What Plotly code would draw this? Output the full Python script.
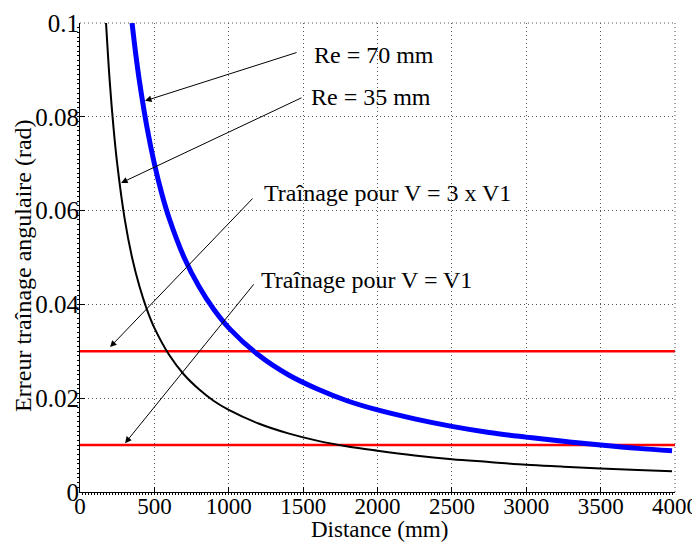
import plotly.graph_objects as go

# Data
x_re35 = [175, 200, 225, 250, 300, 350, 400, 450, 500, 600, 700, 800, 900, 1000,
          1200, 1400, 1600, 1800, 2000, 2250, 2500, 2750, 3000, 3250, 3500, 3750, 3980]
y_re35 = [0.1, 0.0875, 0.0778, 0.07, 0.0583, 0.05, 0.0438, 0.0389, 0.035, 0.0292,
          0.025, 0.0219, 0.0194, 0.0175, 0.0146, 0.0125, 0.0109, 0.0097, 0.0088,
          0.0078, 0.007, 0.0064, 0.0058, 0.0054, 0.005, 0.0047, 0.0044]

x_re70 = [350, 375, 400, 450, 500, 550, 600, 700, 800, 900, 1000, 1200, 1400, 1600,
          1800, 2000, 2250, 2500, 2750, 3000, 3250, 3500, 3750, 3980]
y_re70 = [0.1, 0.0933, 0.0875, 0.0778, 0.07, 0.0636, 0.0583, 0.05, 0.0438, 0.0389,
          0.035, 0.0292, 0.025, 0.0219, 0.0194, 0.0175, 0.0156, 0.014, 0.0127,
          0.0117, 0.0108, 0.01, 0.0093, 0.0088]

x_limits = [0, 4000]
y_v1 = [0.01, 0.01]
y_3v1 = [0.03, 0.03]

x_ticks = [0, 500, 1000, 1500, 2000, 2500, 3000, 3500, 4000]
y_ticks = [0, 0.02, 0.04, 0.06, 0.08, 0.1]
y_tick_labels = ["0", "0.02", "0.04", "0.06", "0.08", "0.1"]

labels = ["Re = 70 mm", "Re = 35 mm", "Traînage pour V = 3 x V1", "Traînage pour V = V1"]
x_title = "Distance (mm)"
y_title = "Erreur traînage angulaire (rad)"

FONT = "Liberation Serif"
GRID_DASH = "1px,3px"
GRID_COLOR = "#555555"

fig = go.Figure()
fig.add_trace(go.Scatter(x=x_limits, y=y_3v1, mode="lines",
                         line=dict(color="#ff0000", width=2.5), hoverinfo="skip"))
fig.add_trace(go.Scatter(x=x_limits, y=y_v1, mode="lines",
                         line=dict(color="#ff0000", width=2.5), hoverinfo="skip"))
fig.add_trace(go.Scatter(x=x_re35, y=y_re35, mode="lines",
                         line=dict(color="black", width=2, shape="spline")))
fig.add_trace(go.Scatter(x=x_re70, y=y_re70, mode="lines",
                         line=dict(color="#0000ff", width=5, shape="spline")))

# arrows: (head x, head y, tail x, tail y)
arrows = [
    (437, 0.0834, 1466, 0.0938),
    (276, 0.0659, 1499, 0.0842),
    (202, 0.0309, 1170, 0.0629),
    (303, 0.0104, 1176, 0.0446),
]
text_pos = [(1560, 0.0932), (1539, 0.0842), (1224, 0.0638), (1203, 0.0452)]

annotations = []
for (hx, hy, tx, ty) in arrows:
    annotations.append(dict(x=hx, y=hy, ax=tx, ay=ty, xref="x", yref="y",
                            axref="x", ayref="y", text="", showarrow=True,
                            arrowhead=2, arrowsize=1.3, arrowwidth=1,
                            arrowcolor="black", standoff=0, startstandoff=0))
for (lbl, (px, py)) in zip(labels, text_pos):
    annotations.append(dict(x=px, y=py, xref="x", yref="y", text=lbl,
                            showarrow=False, xanchor="left", yanchor="middle",
                            font=dict(family=FONT, size=24, color="black")))

# axis titles
annotations.append(dict(x=0.503, y=-0.079, xref="paper", yref="paper", text=x_title,
                        showarrow=False, xanchor="center", yanchor="middle",
                        font=dict(family=FONT, size=23, color="black")))
annotations.append(dict(x=-0.096, y=0.484, xref="paper", yref="paper", text=y_title,
                        showarrow=False, xanchor="center", yanchor="middle",
                        textangle=-90,
                        font=dict(family=FONT, size=24, color="black")))

# dotted frame on top and right edges (like the grid)
shapes = [
    dict(type="line", xref="paper", yref="paper", x0=0, x1=1, y0=1, y1=1,
         line=dict(color=GRID_COLOR, width=1, dash=GRID_DASH)),
    dict(type="line", xref="paper", yref="paper", x0=1, x1=1, y0=0, y1=1,
         line=dict(color=GRID_COLOR, width=1, dash=GRID_DASH)),
]

grid = dict(showgrid=True, gridcolor=GRID_COLOR, griddash=GRID_DASH, gridwidth=1)

fig.update_layout(
    width=692, height=535,
    margin=dict(l=72, r=25, t=15, b=51),
    paper_bgcolor="white", plot_bgcolor="white",
    showlegend=False,
    annotations=annotations,
    shapes=shapes,
    font=dict(family=FONT, color="black"),
    xaxis=dict(range=[0, 4000], tickvals=x_ticks, ticks="inside", ticklen=5,
               tickcolor="black", showline=True, linecolor="black", linewidth=1,
               zeroline=False, tickfont=dict(family=FONT, size=23),
               automargin=False, ticklabelstandoff=-7,
               minor=dict(ticks="outside", ticklen=2, dtick=20, tickcolor="black"),
               **grid),
    yaxis=dict(range=[0, 0.1], tickvals=y_ticks, ticktext=y_tick_labels,
               ticks="inside", ticklen=5, tickcolor="black", showline=True,
               linecolor="black", linewidth=1, zeroline=False,
               tickfont=dict(family=FONT, size=25), automargin=False,
               ticklabelstandoff=-5,
               minor=dict(ticks="outside", ticklen=2, dtick=0.001, tickcolor="black"),
               **grid),
)

fig.write_html("out.html")
